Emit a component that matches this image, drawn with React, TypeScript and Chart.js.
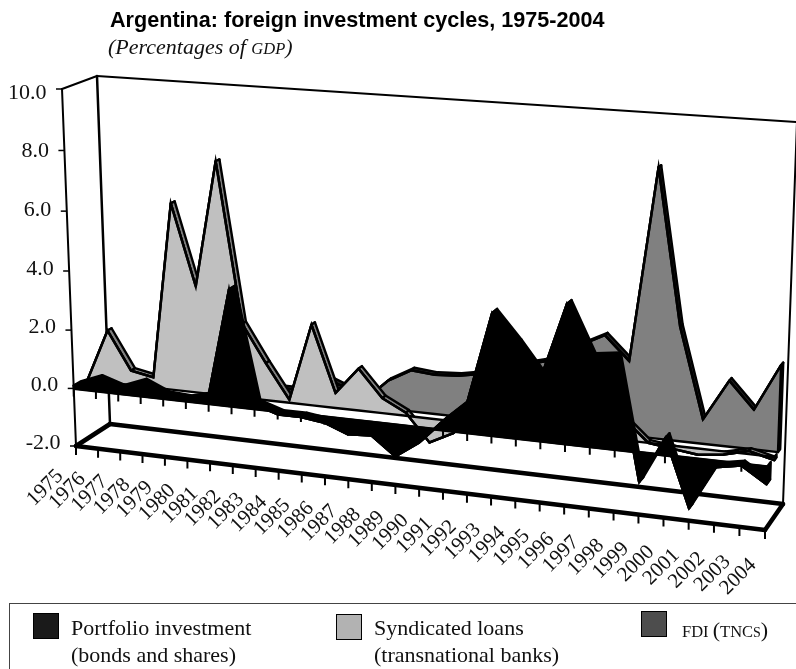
import React, { useEffect, useRef } from "react";
import { Chart, registerables } from "chart.js";

Chart.register(...registerables);

const years = ["1975","1976","1977","1978","1979","1980","1981","1982","1983","1984","1985","1986","1987","1988","1989","1990","1991","1992","1993","1994","1995","1996","1997","1998","1999","2000","2001","2002","2003","2004"];
const portfolio = [0.1,0.4,0.15,0.45,0.1,0.05,0.25,3.9,0.15,-0.1,-0.1,-0.2,-0.5,-0.45,-1.05,-0.5,0.3,1.0,3.95,3.05,2.05,4.45,2.85,2.95,-0.95,0.55,-1.6,-0.2,-0.05,-0.55];
const syndicated = [0,1.8,0.5,0.35,6.3,3.6,7.8,2.5,1.25,0.1,2.7,0.5,1.4,0.5,0.1,-0.8,-0.4,0.3,0.5,0.5,0.5,0.5,0.5,0.7,0,-0.1,-0.2,-0.1,0.1,-0.1];
const fdi = [0.1,0.1,0.1,0.1,0.1,0.1,0.1,0.2,0.3,0.3,0.9,0.6,0.2,0.93,1.37,1.3,1.35,1.5,1.6,2,2.2,2.75,3.15,2.4,8.55,3.65,0.78,2.1,1.26,2.75];

type P = [number, number];
const FA: P = [76, 446], FB: P = [765, 530], FC: P = [62, 89], FD: P = [778, 138];
const BA: P = [110, 424], BB: P = [783, 504], BC: P = [97, 76], BD: P = [797, 122];

const mix = (a: P, b: P, t: number): P => [a[0] + (b[0] - a[0]) * t, a[1] + (b[1] - a[1]) * t];
const warp = (t: number, k: number) => t / (t + k * (1 - t));

function project(u: number, v: number, w: number): P {
  const uu = warp(u, 1.08);
  const vv = warp(v, 1.04);
  const bottom = mix(mix(FA, FB, uu), mix(BA, BB, uu), w);
  const top = mix(mix(FC, FD, uu), mix(BC, BD, uu), w);
  return mix(bottom, top, vv);
}

const projection = {
  id: "projection",
  afterDatasetsUpdate(chart: any) {
    const area = chart.chartArea;
    const xS = chart.scales.x;
    const yS = chart.scales.y;
    const U = (px: number) => (px - area.left) / (area.right - area.left);
    const V = (py: number) => (area.bottom - py) / (area.bottom - area.top);
    chart.data.datasets.forEach((ds: any, di: number) => {
      const meta = chart.getDatasetMeta(di);
      const front: P[] = [], back: P[] = [], base: P[] = [], baseBack: P[] = [];
      const v0 = V(yS.getPixelForValue(0));
      meta.data.forEach((el: any, i: number) => {
        const u = U(xS.getPixelForValue(i));
        const v = V(yS.getPixelForValue(ds.data[i]));
        const f = project(u, v, ds.depth);
        front.push(f);
        back.push(project(u, v, ds.depth + ds.thick));
        base.push(project(u, v0, ds.depth));
        baseBack.push(project(u, v0, ds.depth + ds.thick));
        el.x = f[0];
        el.y = f[1];
      });
      meta.$g = { front, back, base, baseBack };
    });
  },
  beforeDatasetsDraw(chart: any) {
    const ctx = chart.ctx;
    const line = (a: P, b: P, width: number) => {
      ctx.lineWidth = width;
      ctx.beginPath();
      ctx.moveTo(a[0], a[1]);
      ctx.lineTo(b[0], b[1]);
      ctx.stroke();
    };
    ctx.save();
    ctx.strokeStyle = "#000";
    ctx.lineCap = "round";
    line(BA, BC, 2.5);
    line(BC, BD, 2);
    line(BB, BD, 2);
    line(FA, FC, 2);
    line(FC, BC, 2);
    line(BA, BB, 4.5);
    line(FA, FB, 4.5);
    line(FA, BA, 4.5);
    line(FB, BB, 4.5);
    ctx.restore();
  },
  beforeDatasetDraw(chart: any, args: any) {
    const ctx = chart.ctx;
    const ds = chart.data.datasets[args.index];
    const g = args.meta.$g;
    const last = g.front.length - 1;
    ctx.save();
    ctx.lineJoin = "round";
    ctx.strokeStyle = "#000";
    ctx.lineWidth = 2.4;
    ctx.fillStyle = ds.ridgeColor;
    // end cap of the 3-D area at the right wall
    ctx.beginPath();
    ctx.moveTo(g.front[last][0], g.front[last][1]);
    ctx.lineTo(g.back[last][0], g.back[last][1]);
    ctx.lineTo(g.baseBack[last][0], g.baseBack[last][1]);
    ctx.lineTo(g.base[last][0], g.base[last][1]);
    ctx.closePath();
    ctx.fill();
    ctx.stroke();
    // top ribbons and floor strip of the 3-D area
    for (let i = 0; i < last; i++) {
      ctx.beginPath();
      ctx.moveTo(g.front[i][0], g.front[i][1]);
      ctx.lineTo(g.front[i + 1][0], g.front[i + 1][1]);
      ctx.lineTo(g.back[i + 1][0], g.back[i + 1][1]);
      ctx.lineTo(g.back[i][0], g.back[i][1]);
      ctx.closePath();
      ctx.fill();
      ctx.stroke();
    }
    // front face
    ctx.fillStyle = ds.faceColor;
    ctx.beginPath();
    g.front.forEach((p: P, i: number) => (i ? ctx.lineTo(p[0], p[1]) : ctx.moveTo(p[0], p[1])));
    for (let i = last; i >= 0; i--) ctx.lineTo(g.base[i][0], g.base[i][1]);
    ctx.closePath();
    ctx.fill();
    ctx.stroke();
    ctx.restore();
  },
  afterDatasetsDraw(chart: any) {
    const ctx = chart.ctx;
    const area = chart.chartArea;
    const xS = chart.scales.x;
    const yS = chart.scales.y;
    const U = (px: number) => (px - area.left) / (area.right - area.left);
    const V = (py: number) => (area.bottom - py) / (area.bottom - area.top);
    const v0 = V(yS.getPixelForValue(0));
    ctx.save();
    ctx.strokeStyle = "#000";
    ctx.fillStyle = "#111";
    ctx.lineCap = "butt";
    const z0 = project(0, v0, 0), z1 = project(1, v0, 0);
    ctx.lineWidth = 3;
    ctx.beginPath();
    ctx.moveTo(z0[0], z0[1]);
    ctx.lineTo(z1[0], z1[1]);
    ctx.stroke();
    ctx.font = "21px 'Liberation Serif'";
    years.forEach((label, i) => {
      const u = U(xS.getPixelForValue(i));
      const a = project(u, v0, 0);
      const b = project(u, 0, 0);
      ctx.lineWidth = 2;
      ctx.beginPath();
      ctx.moveTo(a[0], a[1]);
      ctx.lineTo(a[0], a[1] + 8);
      ctx.moveTo(b[0], b[1]);
      ctx.lineTo(b[0], b[1] + 9);
      ctx.stroke();
      ctx.save();
      ctx.translate(b[0] - 16 + 4 * u, b[1] + 27 + 5 * u);
      ctx.rotate(-Math.PI / 4);
      ctx.textAlign = "right";
      ctx.textBaseline = "middle";
      ctx.fillText(label, 0, 0);
      ctx.restore();
    });
    ctx.font = "22px 'Liberation Serif'";
    yS.ticks.forEach((t: any) => {
      const v = V(yS.getPixelForValue(t.value));
      const p = project(0, v, 0);
      ctx.lineWidth = 1.5;
      ctx.beginPath();
      ctx.moveTo(p[0] - 6, p[1]);
      ctx.lineTo(p[0], p[1]);
      ctx.stroke();
      ctx.textAlign = "right";
      ctx.textBaseline = "middle";
      ctx.fillText(t.value.toFixed(1), p[0] - 15.5, p[1] - 3 + 7 * v * v * v);
    });
    ctx.restore();
  },
};

const serif = "'Liberation Serif', serif";

function Swatch({ left, top, color }: { left: number; top: number; color: string }) {
  return <div style={{ position: "absolute", left, top, width: 24, height: 24, background: color, border: "1px solid #000" }} />;
}
function Text({ left, top, size, children, style }: any) {
  return <div style={{ position: "absolute", left, top, fontSize: size, lineHeight: "24px", fontFamily: serif, color: "#111", whiteSpace: "nowrap", ...style }}>{children}</div>;
}

export default function App() {
  const ref = useRef<HTMLCanvasElement>(null);
  useEffect(() => {
    const chart = new Chart(ref.current as HTMLCanvasElement, {
      type: "line",
      data: {
        labels: years,
        datasets: [
          { label: "Portfolio investment (bonds and shares)", data: portfolio, depth: 0.0, thick: 0.2, ridgeColor: "#000", faceColor: "#000", borderColor: "#000", borderWidth: 2.4, pointRadius: 0, tension: 0, fill: false, clip: false },
          { label: "Syndicated loans (transnational banks)", data: syndicated, depth: 0.4, thick: 0.12, ridgeColor: "#808080", faceColor: "#c0c0c0", borderColor: "#000", borderWidth: 2.4, pointRadius: 0, tension: 0, fill: false, clip: false },
          { label: "FDI (TNCs)", data: fdi, depth: 0.6, thick: 0.12, ridgeColor: "#222", faceColor: "#808080", borderColor: "#000", borderWidth: 2.4, pointRadius: 0, tension: 0, fill: false, clip: false },
        ] as any,
      },
      options: {
        animation: false,
        responsive: false,
        events: [],
        layout: { padding: 0 },
        plugins: { legend: { display: false }, tooltip: { enabled: false } },
        scales: {
          x: { type: "category", display: false, offset: false },
          y: { type: "linear", display: false, min: -2, max: 10, ticks: { stepSize: 2 } },
        },
      },
      plugins: [projection as any],
    });
    return () => chart.destroy();
  }, []);
  return (
    <div style={{ position: "absolute", left: 0, top: 0, width: 796, height: 669, overflow: "hidden", background: "#fff" }}>
      <canvas ref={ref} width={796} height={669} style={{ position: "absolute", left: 0, top: 0, display: "block" }} />
      <div style={{ position: "absolute", left: 110, top: 9, fontFamily: "'Liberation Sans', sans-serif", fontWeight: 700, fontSize: 21.6, lineHeight: "22px", color: "#000", whiteSpace: "nowrap" }}>
        Argentina: foreign investment cycles, 1975-2004
      </div>
      <div style={{ position: "absolute", left: 108, top: 35, fontFamily: serif, fontStyle: "italic", fontSize: 22, lineHeight: "24px", color: "#111", whiteSpace: "nowrap" }}>
        (Percentages of <span style={{ fontSize: 16.5 }}>GDP</span>)
      </div>
      <div style={{ position: "absolute", left: 9, top: 603, width: 800, height: 80, border: "1.5px solid #444" }} />
      <Swatch left={33} top={613} color="#1a1a1a" />
      <Text left={71} top={616} size={22}>Portfolio investment</Text>
      <Text left={71} top={643} size={22}>(bonds and shares)</Text>
      <Swatch left={336} top={614} color="#b2b2b2" />
      <Text left={374} top={616} size={22}>Syndicated loans</Text>
      <Text left={374} top={643} size={22}>(transnational banks)</Text>
      <Swatch left={641} top={611} color="#4d4d4d" />
      <Text left={682} top={618} size={16.5}>FDI <span style={{ fontSize: 22 }}>(</span>TNC<span style={{ fontSize: 14 }}>S</span><span style={{ fontSize: 22 }}>)</span></Text>
    </div>
  );
}
